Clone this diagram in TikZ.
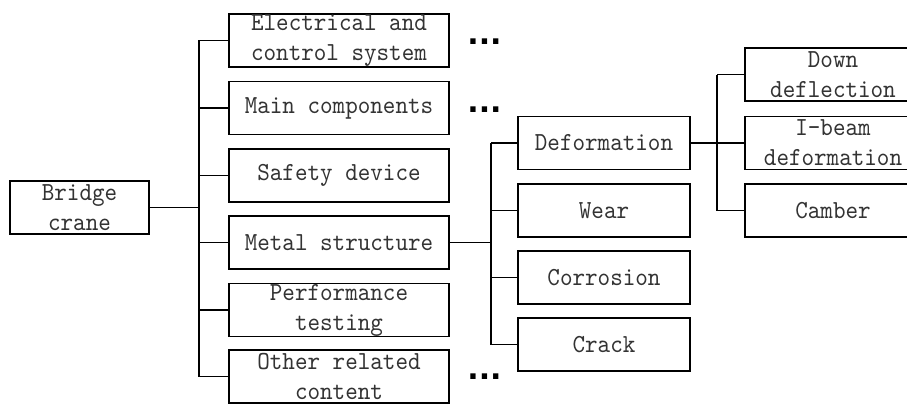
\documentclass[tikz,border=0pt]{standalone}
\usepackage{fontspec}
\newfontfamily\boxfont[FakeStretch=0.92]{lmmono10-regular.otf}
\newfontfamily\dotfont{DejaVu Sans}
\usepackage{tikz}

\tikzset{
  box/.style={draw=black, line width=1.6pt, inner sep=0pt, align=center,
    font=\boxfont\fontsize{26}{30}\selectfont, text=black!80,
    minimum height=53, anchor=center},
  lvla/.style={box, minimum width=220},
  lvlb/.style={box, minimum width=172},
  lvlc/.style={box, minimum width=176},
  link/.style={line width=1.6pt},
  more/.style={font=\dotfont\bfseries\fontsize{30}{30}\selectfont, inner sep=0pt, anchor=base}
}

\begin{document}
\begin{tikzpicture}[x=1pt, y=-1pt]
\useasboundingbox (0,0) rectangle (907,404);
\clip (0,0) rectangle (907,404);

%% root
\node[box, minimum width=139] (crane) at (79.5,207.5) {Bridge\\crane};

%% first level
\node[lvla] (elec)   at (339,40.5)  {Electrical and\\control system};
\node[lvla] (main)   at (339,108)   {Main components};
\node[lvla] (safety) at (339,175.5) {Safety device};
\node[lvla] (metal)  at (339,242.5) {Metal structure};
\node[lvla] (perf)   at (339,310)   {Performance\\testing};
\node[lvla] (other)  at (339,376.5) {Other related\\content};

%% second level
\node[lvlb] (deform) at (604,143)   {Deformation};
\node[lvlb] (wear)   at (604,210.5) {Wear};
\node[lvlb] (corr)   at (604,277.5) {Corrosion};
\node[lvlb] (crack)  at (604,344.5) {Crack};

%% third level
\node[lvlc] (down)   at (833,74.5)  {Down\\deflection};
\node[lvlc] (ibeam)  at (833,143)   {I-beam\\deformation};
\node[lvlc] (camber) at (833,210.5) {Camber};

%% more items
\node[more] (moreA) at (484.5,45) {...};
\node[more] (moreB) at (484.5,112) {...};
\node[more] (moreC) at (484.5,379) {...};

%% junctions
\coordinate (ja) at (199,207.5);
\coordinate (jb) at (491,242.5);
\coordinate (jc) at (717,143);

%% edges
\draw[link] (crane.east) -- (ja);
\draw[link] (ja |- elec) -- (ja |- other);
\foreach \n in {elec,main,safety,metal,perf,other}
  \draw[link] (ja |- \n) -- (\n.west);

\draw[link] (metal.east) -- (jb);
\draw[link] (jb |- deform) -- (jb |- crack);
\foreach \n in {deform,wear,corr,crack}
  \draw[link] (jb |- \n) -- (\n.west);

\draw[link] (deform.east) -- (jc);
\draw[link] (jc |- down) -- (jc |- camber);
\foreach \n in {down,ibeam,camber}
  \draw[link] (jc |- \n) -- (\n.west);
\end{tikzpicture}
\end{document}
